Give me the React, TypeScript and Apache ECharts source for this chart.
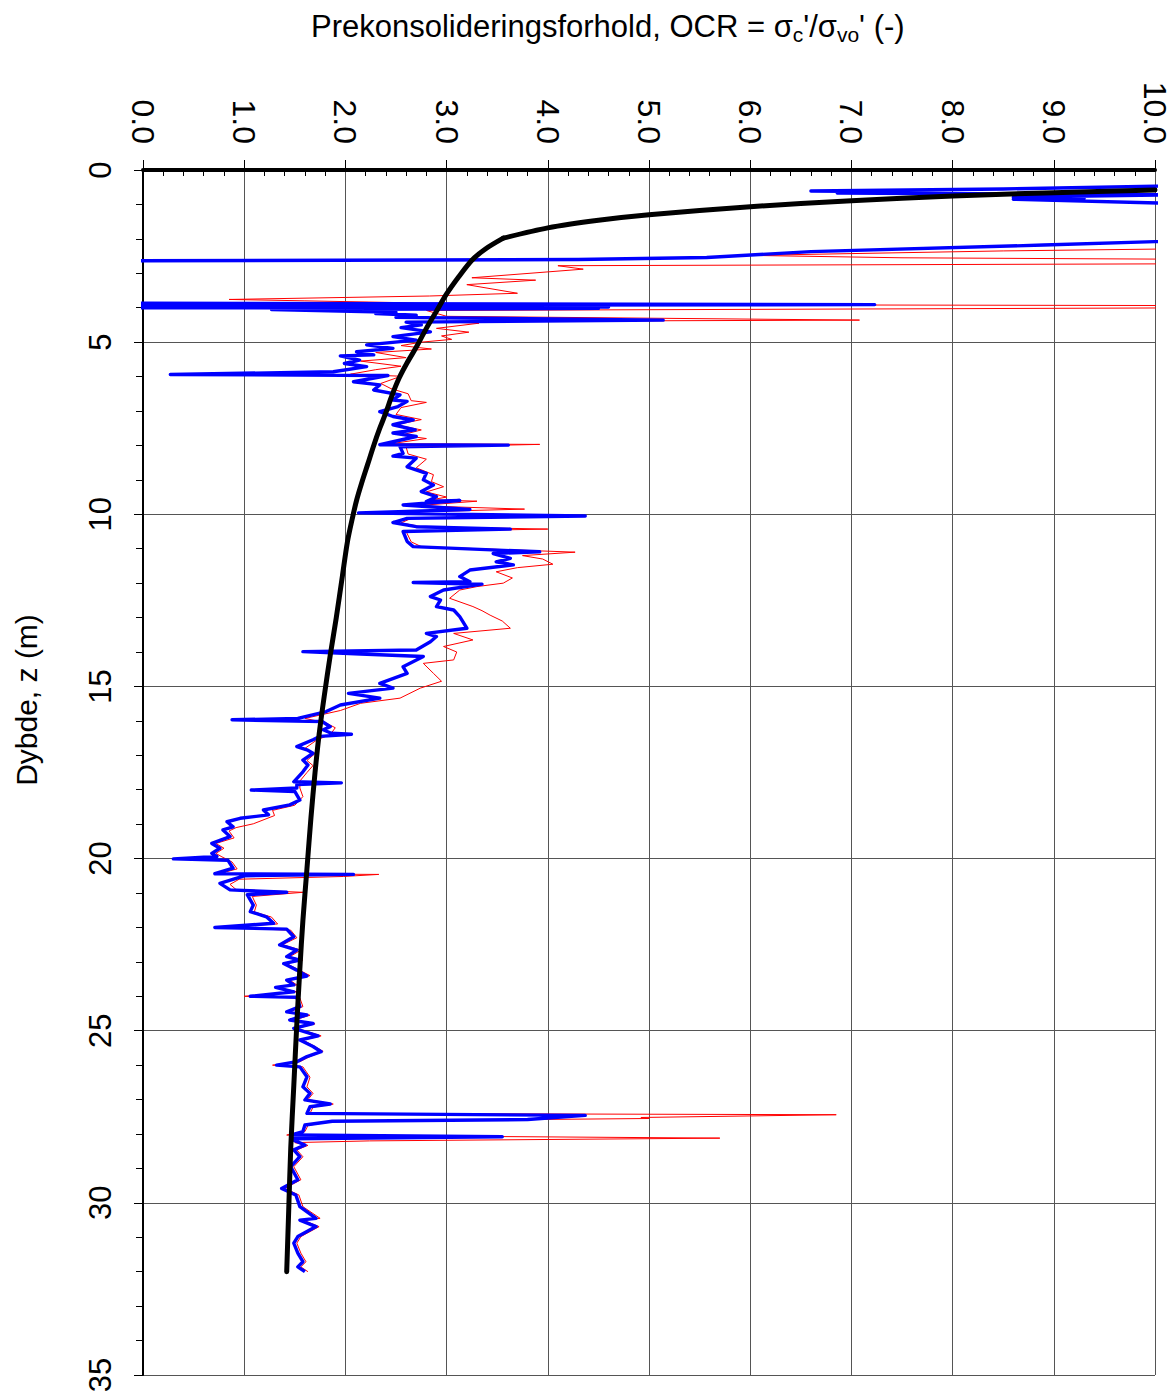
import React, { useEffect, useRef } from "react";
import * as echarts from "echarts";

const FONT = "'Liberation Sans', Arial, Helvetica, sans-serif";

const xTickValues = [0, 1, 2, 3, 4, 5, 6, 7, 8, 9, 10];
const depthTicks = [0, 5, 10, 15, 20, 25, 30, 35];

// Thick black reference curve, upper branch (above the kink): [OCR, depth]
const blackUpper: number[][] = [
  [10.0, 0.58], [9.0, 0.66], [8.0, 0.755], [7.0, 0.89], [6.0, 1.065], [5.0, 1.3],
  [4.5, 1.46], [4.0, 1.68], [3.56, 1.98],
];

// Thick black reference curve, lower branch (below the kink): [OCR, depth]
const blackLower: number[][] = [
  [3.56, 1.98], [3.38, 2.3], [3.25, 2.62], [3.12, 3.1], [3.0, 3.6], [2.9, 4.1],
  [2.8, 4.6], [2.7, 5.15], [2.61, 5.6], [2.53, 6.05], [2.46, 6.55], [2.4, 7.05],
  [2.34, 7.5], [2.28, 8.0], [2.22, 8.55], [2.16, 9.1], [2.11, 9.6], [2.07, 10.1],
  [2.02, 10.8], [1.97, 11.8], [1.91, 13.0], [1.85, 14.1], [1.79, 15.3], [1.74, 16.4],
  [1.7, 17.5], [1.66, 18.8], [1.62, 20.3], [1.58, 21.8], [1.55, 23.2], [1.52, 24.8],
  [1.49, 26.6], [1.46, 28.4], [1.44, 30.2], [1.42, 32.0],
];

// Blue profile: [OCR, depth]
const blueOCR: number[][] = [
  [11, 0.44], [10, 0.47], [8.5, 0.55], [6.6, 0.61], [7.6, 0.63], [6.86, 0.67], [9.0, 0.7],
  [10.3, 0.72], [8.6, 0.79], [9.3, 0.82], [8.6, 0.85], [10.3, 0.98], [12, 1.3], [12, 1.9],
  [10.0, 2.08], [8.9, 2.18], [6.6, 2.37], [5.57, 2.54], [4.3, 2.6], [-0.5, 2.64], [-0.5, 3.87],
  [7.23, 3.91], [-0.3, 3.94], [4.6, 3.98], [-0.2, 4.0], [4.5, 4.02], [1.27, 4.05], [2.5, 4.13],
  [2.3, 4.17], [2.7, 4.22], [2.5, 4.28], [5.14, 4.36], [2.6, 4.42], [2.75, 4.5], [2.55, 4.58],
  [2.84, 4.7], [2.47, 4.84], [2.7, 4.94], [2.21, 5.08], [2.47, 5.18], [2.11, 5.28], [2.28, 5.37],
  [1.95, 5.4], [2.14, 5.52], [1.99, 5.62], [2.21, 5.71], [1.88, 5.86], [0.27, 5.94], [2.42, 5.97],
  [2.08, 6.15], [2.34, 6.24], [2.28, 6.39], [2.54, 6.53], [2.47, 6.68], [2.61, 6.72], [2.52, 6.87],
  [2.34, 7.02], [2.47, 7.16], [2.67, 7.26], [2.47, 7.4], [2.69, 7.55], [2.47, 7.64], [2.7, 7.74],
  [2.34, 7.98], [3.61, 7.99], [2.54, 8.04], [2.57, 8.23], [2.47, 8.31], [2.7, 8.37], [2.61, 8.62],
  [2.8, 8.81], [2.77, 9.0], [2.87, 9.15], [2.75, 9.34], [2.9, 9.49], [2.8, 9.63], [3.13, 9.6],
  [2.57, 9.73], [3.23, 9.86], [2.13, 9.96], [4.37, 10.05], [2.61, 10.12], [2.47, 10.24],
  [2.7, 10.36], [3.63, 10.43], [2.57, 10.5], [2.61, 10.79], [2.67, 10.94], [3.92, 11.09],
  [3.46, 11.14], [3.63, 11.28], [3.49, 11.38], [3.66, 11.47], [3.23, 11.62], [3.13, 11.81],
  [3.23, 11.96], [2.67, 11.98], [3.35, 12.03], [2.97, 12.2], [2.84, 12.39], [2.94, 12.49],
  [2.9, 12.68], [3.07, 12.78], [3.13, 12.97], [3.2, 13.31], [2.8, 13.46], [2.9, 13.55],
  [2.84, 13.7], [2.7, 13.94], [1.58, 13.99], [2.15, 14.06], [2.77, 14.13], [2.57, 14.43],
  [2.61, 14.62], [2.34, 14.91], [2.47, 15.05], [2.03, 15.2], [2.34, 15.34], [1.95, 15.54],
  [1.81, 15.73], [1.53, 15.93], [0.88, 15.97], [1.77, 16.02], [1.85, 16.17], [1.78, 16.26],
  [1.86, 16.36], [2.06, 16.39], [1.75, 16.45], [1.68, 16.55], [1.52, 16.75], [1.62, 16.84],
  [1.68, 16.94], [1.58, 17.14], [1.63, 17.28], [1.58, 17.48], [1.49, 17.77], [1.96, 17.8],
  [1.52, 17.85], [1.52, 17.95], [1.07, 18.01], [1.5, 18.05], [1.55, 18.3], [1.45, 18.44],
  [1.19, 18.59], [1.24, 18.73], [0.96, 18.83], [0.83, 18.93], [0.89, 19.08], [0.79, 19.17],
  [0.86, 19.36], [0.68, 19.56], [0.76, 19.7], [0.68, 19.85], [0.73, 19.94], [0.3, 20.01],
  [0.84, 20.05], [0.89, 20.28], [0.71, 20.44], [2.08, 20.46], [1.0, 20.5], [0.76, 20.72],
  [0.86, 20.91], [1.42, 20.98], [1.03, 21.05], [1.09, 21.35], [1.06, 21.54], [1.22, 21.69],
  [1.29, 21.88], [0.71, 22.0], [1.42, 22.05], [1.49, 22.27], [1.35, 22.51], [1.52, 22.66],
  [1.42, 22.85], [1.55, 22.95], [1.39, 23.05], [1.52, 23.24], [1.62, 23.41], [1.42, 23.53],
  [1.49, 23.67], [1.31, 23.74], [1.49, 23.87], [1.06, 24.0], [1.52, 24.03], [1.55, 24.3],
  [1.42, 24.45], [1.62, 24.54], [1.45, 24.69], [1.68, 24.79], [1.49, 24.93], [1.73, 25.15],
  [1.55, 25.27], [1.68, 25.46], [1.76, 25.61], [1.62, 25.75], [1.52, 25.9], [1.32, 26.0],
  [1.55, 26.05], [1.62, 26.34], [1.58, 26.63], [1.65, 26.82], [1.6, 27.01], [1.85, 27.13],
  [1.65, 27.21], [1.62, 27.4], [4.37, 27.46], [3.8, 27.58], [1.87, 27.63], [1.6, 27.74],
  [1.58, 27.93], [1.46, 28.03], [3.55, 28.08], [1.46, 28.14], [1.6, 28.32], [1.49, 28.46],
  [1.55, 28.66], [1.46, 28.95], [1.53, 29.33], [1.37, 29.58], [1.51, 29.77], [1.55, 30.11],
  [1.71, 30.45], [1.55, 30.5], [1.71, 30.69], [1.53, 30.98], [1.49, 31.17], [1.53, 31.46],
  [1.58, 31.71], [1.53, 31.86], [1.6, 32.0],
];

// Red profile: [OCR, depth]
const redOCR: number[][] = [
  [10.8, 2.27], [8.5, 2.35], [6.0, 2.48], [7.5, 2.55], [10.8, 2.6], [10.8, 2.72], [4.1, 2.78],
  [4.35, 2.88], [3.25, 3.13], [3.88, 3.2], [3.2, 3.33], [3.7, 3.58], [2.83, 3.66], [0.85, 3.76],
  [1.6, 3.8], [2.5, 3.85], [2.85, 3.9], [10.8, 3.94], [10.8, 4.0], [2.8, 4.08], [3.0, 4.25],
  [7.08, 4.36], [2.86, 4.4], [3.32, 4.45], [2.9, 4.6], [3.22, 4.71], [2.95, 4.82], [3.05, 4.92],
  [2.75, 5.0], [2.55, 5.1], [2.85, 5.2], [2.3, 5.3], [2.6, 5.45], [2.15, 5.55], [2.55, 5.7],
  [2.3, 5.8], [2.05, 5.93], [2.55, 5.99], [2.35, 6.2], [2.45, 6.35], [2.62, 6.5], [2.65, 6.7],
  [2.8, 6.75], [2.55, 6.9], [2.5, 7.1], [2.75, 7.25], [2.5, 7.4], [2.75, 7.55], [2.55, 7.7],
  [2.8, 7.8], [2.45, 7.95], [3.92, 7.97], [2.6, 8.05], [2.62, 8.25], [2.8, 8.4], [2.7, 8.65],
  [2.87, 8.85], [2.85, 9.05], [2.97, 9.2], [2.8, 9.35], [3.0, 9.5], [2.85, 9.58], [3.3, 9.62],
  [2.7, 9.75], [3.77, 9.85], [2.3, 9.96], [4.0, 10.05], [2.65, 10.12], [2.55, 10.25],
  [2.75, 10.36], [4.0, 10.43], [2.6, 10.5], [2.65, 10.8], [2.75, 10.94], [4.27, 11.1],
  [3.75, 11.2], [3.95, 11.3], [4.05, 11.45], [3.7, 11.55], [3.49, 11.67], [3.65, 11.85],
  [3.56, 12.0], [3.3, 12.1], [3.13, 12.2], [3.03, 12.44], [3.26, 12.68], [3.35, 12.8],
  [3.43, 12.93], [3.55, 13.1], [3.63, 13.31], [3.07, 13.46], [3.26, 13.65], [2.97, 13.84],
  [3.1, 14.0], [3.07, 14.23], [2.77, 14.33], [2.87, 14.62], [2.95, 14.85], [2.74, 15.05],
  [2.54, 15.34], [2.15, 15.49], [1.95, 15.7], [1.6, 15.93], [1.8, 16.05], [1.9, 16.2],
  [1.85, 16.4], [1.72, 16.55], [1.6, 16.8], [1.7, 16.95], [1.62, 17.15], [1.68, 17.3],
  [1.62, 17.5], [1.55, 17.75], [1.55, 17.95], [1.58, 18.2], [1.5, 18.45], [1.28, 18.6],
  [1.3, 18.75], [1.09, 18.99], [0.92, 19.1], [0.85, 19.2], [0.9, 19.4], [0.72, 19.56],
  [0.8, 19.7], [0.72, 19.85], [0.78, 19.95], [0.88, 20.1], [0.93, 20.3], [0.75, 20.44],
  [2.33, 20.46], [1.98, 20.52], [0.95, 20.6], [0.86, 20.75], [0.92, 20.9], [1.58, 20.98],
  [1.08, 21.1], [1.12, 21.35], [1.1, 21.55], [1.27, 21.7], [1.33, 21.9], [0.75, 22.0],
  [1.46, 22.08], [1.52, 22.3], [1.38, 22.5], [1.56, 22.66], [1.45, 22.85], [1.58, 22.95],
  [1.42, 23.05], [1.55, 23.25], [1.65, 23.4], [1.45, 23.53], [1.52, 23.67], [1.33, 23.74],
  [1.52, 23.87], [1.0, 24.0], [1.55, 24.05], [1.58, 24.3], [1.45, 24.45], [1.65, 24.55],
  [1.48, 24.7], [1.7, 24.8], [1.52, 24.93], [1.76, 25.15], [1.58, 25.27], [1.7, 25.46],
  [1.78, 25.6], [1.65, 25.75], [1.55, 25.9], [1.28, 26.0], [1.58, 26.05], [1.65, 26.35],
  [1.62, 26.63], [1.68, 26.82], [1.63, 27.0], [1.88, 27.13], [1.68, 27.22], [1.65, 27.4],
  [6.85, 27.44], [4.92, 27.52], [5.0, 27.55], [1.9, 27.63], [1.63, 27.75], [1.6, 27.93],
  [1.42, 28.03], [5.7, 28.12], [2.24, 28.2], [1.5, 28.25], [1.63, 28.33], [1.52, 28.46],
  [1.58, 28.66], [1.49, 28.95], [1.56, 29.33], [1.4, 29.58], [1.54, 29.77], [1.58, 30.11],
  [1.75, 30.45], [1.58, 30.5], [1.74, 30.69], [1.56, 30.98], [1.52, 31.17], [1.56, 31.46],
  [1.61, 31.71], [1.56, 31.86], [1.63, 32.0],
];

export default function App() {
  const ref = useRef<HTMLDivElement>(null);

  useEffect(() => {
    if (!ref.current) return;
    const chart = echarts.init(ref.current, null, { renderer: "svg" });
    const xMin = xTickValues[0];
    const xMax = xTickValues[xTickValues.length - 1];
    const yMin = depthTicks[0];
    const yMax = depthTicks[depthTicks.length - 1];

    const blackStyle = { color: "#000", width: 5, cap: "round", join: "round" };

    chart.setOption({
      animation: false,
      backgroundColor: "#ffffff",
      textStyle: { fontFamily: FONT },
      title: {
        left: 306,
        top: 3,
        text:
          "{a|Prekonsolideringsforhold, OCR = }{a|σ}{s|c}{a|'/}{a|σ}{s|vo}{a|' (-)}",
        textStyle: {
          fontWeight: "normal",
          rich: {
            a: { fontSize: 31, fontFamily: FONT, fontWeight: "normal", color: "#000" },
            s: {
              fontSize: 21,
              fontFamily: FONT,
              fontWeight: "normal",
              color: "#000",
              padding: [16, 0, 0, 0],
            },
          },
        },
      },
      grid: {
        left: 143,
        top: 170,
        right: 20,
        bottom: 20,
        containLabel: false,
        outerBoundsMode: "none",
      },
      xAxis: [
        {
          type: "value",
          position: "top",
          min: xMin,
          max: xMax,
          interval: 1,
          axisLine: { show: true, onZero: false, lineStyle: { color: "#000", width: 4 } },
          axisTick: { show: true, inside: false, length: 10, lineStyle: { color: "#000", width: 1 } },
          minorTick: { show: false },
          axisLabel: {
            rotate: 90,
            margin: 26,
            fontSize: 32,
            fontFamily: FONT,
            color: "#000",
            formatter: (v: number) => v.toFixed(1),
          },
          splitLine: { show: true, lineStyle: { color: "#555", width: 1 } },
        },
        {
          type: "value",
          position: "top",
          min: xMin,
          max: xMax,
          interval: 1,
          axisLine: { show: false },
          axisTick: { show: false, inside: true },
          minorTick: { show: true, splitNumber: 5, length: 6, lineStyle: { color: "#000", width: 1 } },
          axisLabel: { show: false },
          splitLine: { show: false },
        },
      ],
      yAxis: {
        type: "value",
        inverse: true,
        min: yMin,
        max: yMax,
        interval: 5,
        position: "left",
        axisLine: { show: true, onZero: false, lineStyle: { color: "#000", width: 2 } },
        axisTick: { show: true, length: 9, lineStyle: { color: "#000", width: 1 } },
        minorTick: { show: true, splitNumber: 5, length: 7, lineStyle: { color: "#000", width: 1 } },
        axisLabel: { rotate: 90, margin: 27, fontSize: 31, fontFamily: FONT, color: "#000" },
        splitLine: { show: true, lineStyle: { color: "#555", width: 1 } },
      },
      graphic: [
        {
          type: "text",
          x: 26,
          y: 700,
          rotation: Math.PI / 2,
          style: {
            text: "Dybde, z (m)",
            fontSize: 30,
            fontFamily: FONT,
            fill: "#000",
            align: "center",
            verticalAlign: "middle",
            textAlign: "center",
            textVerticalAlign: "middle",
          },
        },
      ],
      series: [
        {
          type: "line",
          name: "red",
          data: redOCR,
          xAxisIndex: 0,
          showSymbol: false,
          symbol: "none",
          clip: true,
          z: 2,
          lineStyle: { color: "#ff0000", width: 1 },
        },
        {
          type: "line",
          name: "blue",
          data: blueOCR,
          xAxisIndex: 0,
          showSymbol: false,
          symbol: "none",
          clip: true,
          z: 3,
          lineStyle: { color: "#0000ff", width: 3.4, join: "round" },
        },
        {
          type: "line",
          name: "blackUpper",
          data: blackUpper,
          xAxisIndex: 0,
          showSymbol: false,
          symbol: "none",
          clip: true,
          smooth: 0.3,
          z: 4,
          lineStyle: blackStyle,
        },
        {
          type: "line",
          name: "blackLower",
          data: blackLower,
          xAxisIndex: 0,
          showSymbol: false,
          symbol: "none",
          clip: true,
          smooth: 0.3,
          z: 4,
          lineStyle: blackStyle,
        },
      ],
    });
    return () => chart.dispose();
  }, []);

  return (
    <div
      ref={ref}
      style={{ position: "fixed", left: 0, top: 0, width: 1175, height: 1395, background: "#fff" }}
    />
  );
}
